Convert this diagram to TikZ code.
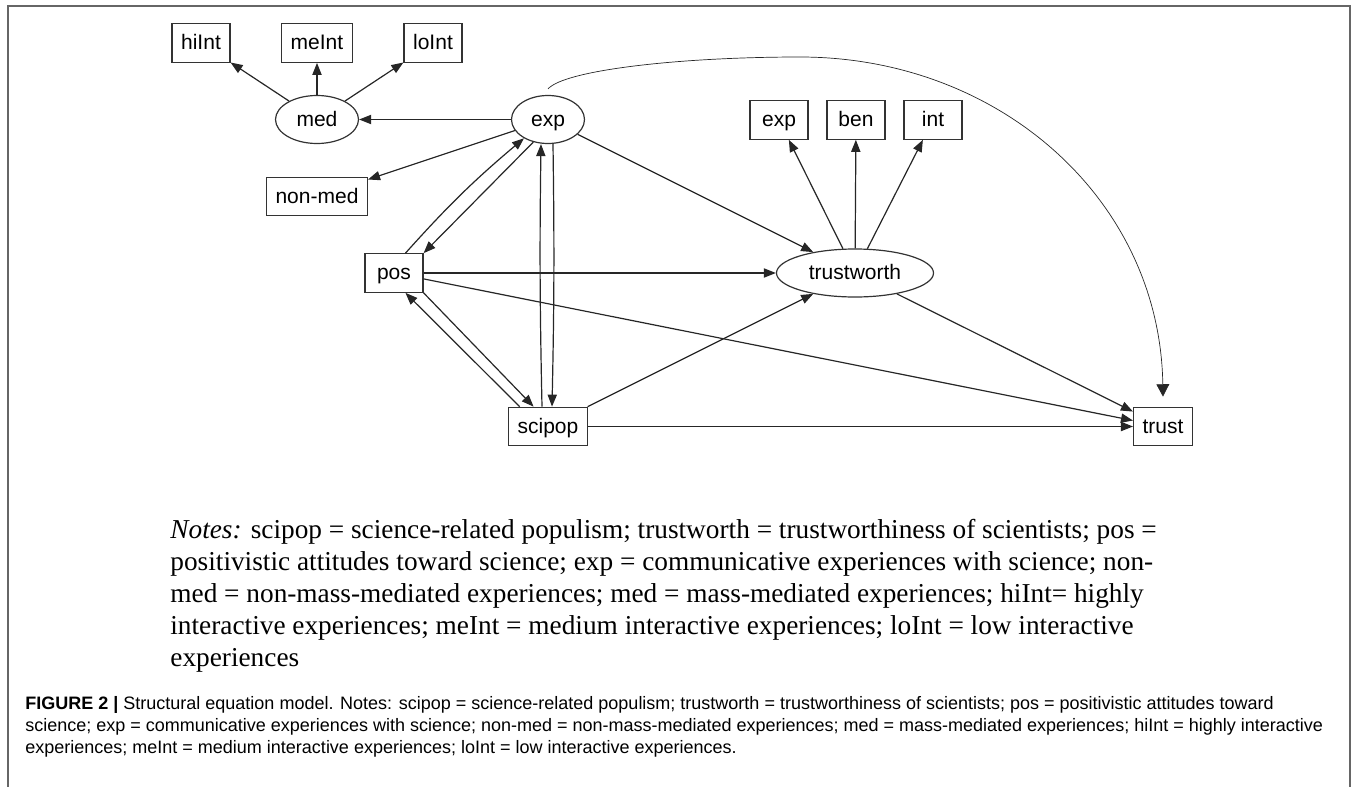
\documentclass[tikz,border=0pt]{standalone}
\usepackage{fontspec}
\setmainfont{Liberation Serif}
\newfontfamily\arialf{Liberation Sans}
\usetikzlibrary{arrows.meta,shapes.geometric}
\begin{document}
\begin{tikzpicture}[x=0.5pt,y=-0.5pt,
  lbl/.style={font=\arialf\fontsize{10.5pt}{12pt}\selectfont, text=black, text height=8pt, text depth=1.5pt},
  obs/.style={lbl, draw=black!80, line width=0.6pt, rectangle, minimum width=29pt, minimum height=19.25pt, inner xsep=4.5pt, inner ysep=0pt},
  lat/.style={lbl, draw=black!80, line width=0.6pt, ellipse, minimum height=24pt, inner sep=0pt},
  arr/.style={draw=black!85, line width=0.6pt, -{Triangle[length=6pt,width=4.6pt]}},
  bigarr/.style={draw=black!85, line width=0.35pt, -{Triangle[length=6.2pt,width=6.4pt]}},
  frameline/.style={draw=black!60, line width=0.7pt},
  note/.style={anchor=base west, inner sep=0pt, font=\fontsize{13.65pt}{16pt}\selectfont},
  capt/.style={anchor=base west, inner sep=0pt, font=\arialf\fontsize{9pt}{11pt}\selectfont},
]
\useasboundingbox (0,0) rectangle (1356,787);
\draw[frameline] (8,790) -- (8,6) -- (1350,6) -- (1350,790);

% nodes
\node[obs] (hiInt) at (201,43) {hiInt};
\node[obs] (meInt) at (317,43) {meInt};
\node[obs] (loInt) at (433,43) {loInt};
\node[lat, minimum width=41.5pt] (med) at (317,119.5) {med};
\node[lat, minimum width=36.5pt] (exp) at (548,119.5) {exp};
\node[obs] (nonmed) at (317,196.5) {non-med};
\node[obs] (expi) at (779,120) {exp};
\node[obs] (ben) at (856,120) {ben};
\node[obs] (int) at (933,120) {int};
\node[lat, minimum width=78.5pt] (tw) at (855,273) {trustworth};
\node[obs] (pos) at (394,273) {pos};
\node[obs] (scipop) at (548,426.5) {scipop};
\node[obs] (trust) at (1163,426.5) {trust};
\coordinate (ctop) at (800,57);

% connectors
\draw[arr] (med) -- (hiInt);
\draw[arr] (med) -- (meInt);
\draw[arr] (med) -- (loInt);
\draw[arr] (exp) -- (med);
\draw[arr] (exp) -- (nonmed);
\draw[arr] (pos.60) to[bend left=4] (exp.218);
\draw[arr] (exp.237) -- (pos.north east);
\draw[arr] ([xshift=-3pt]scipop.north) to[bend left=1] ([xshift=-3.5pt]exp.south);
\draw[arr] ([xshift=2.5pt]exp.south) to[bend left=1] ([xshift=2pt]scipop.north);
\draw[arr] (scipop.145) -- (pos.300);
\draw[arr] (pos.south east) -- (scipop.126);
\draw[arr] (exp) -- (tw);
\draw[arr] (pos) -- (tw);
\draw[arr] (pos) -- (trust);
\draw[arr] (scipop) -- (tw);
\draw[arr] (scipop) -- (trust);
\draw[arr] (tw) -- (trust);
\draw[arr] (tw) -- (expi);
\draw[arr] (tw) -- (ben);
\draw[arr] (tw) -- (int);
\draw[bigarr] ([yshift=3pt]exp.north) .. controls (565,70) and (680,57) .. (ctop) .. controls (1000,57) and (1160,200) .. ([yshift=5pt]trust.north);

% notes
\node[note] (n1) at (170,538) {\textit{Notes:} scipop = science-related populism; trustworth = trustworthiness of scientists; pos =};
\node[note] (n2) at (170,570) {positivistic attitudes toward science; exp = communicative experiences with science; non-};
\node[note] (n3) at (170,602) {med = non-mass-mediated experiences; med = mass-mediated experiences; hiInt= highly};
\node[note] (n4) at (170,634) {interactive experiences; meInt = medium interactive experiences; loInt = low interactive};
\node[note] (n5) at (170,666) {experiences};

% caption
\node[capt] (c1) at (25,709) {\textbf{FIGURE 2 |} Structural equation model. Notes: scipop = science-related populism; trustworth = trustworthiness of scientists; pos = positivistic attitudes toward};
\node[capt] (c2) at (25,731) {science; exp = communicative experiences with science; non-med = non-mass-mediated experiences; med = mass-mediated experiences; hiInt = highly interactive};
\node[capt] (c3) at (25,753) {experiences; meInt = medium interactive experiences; loInt = low interactive experiences.};
\end{tikzpicture}
\end{document}
